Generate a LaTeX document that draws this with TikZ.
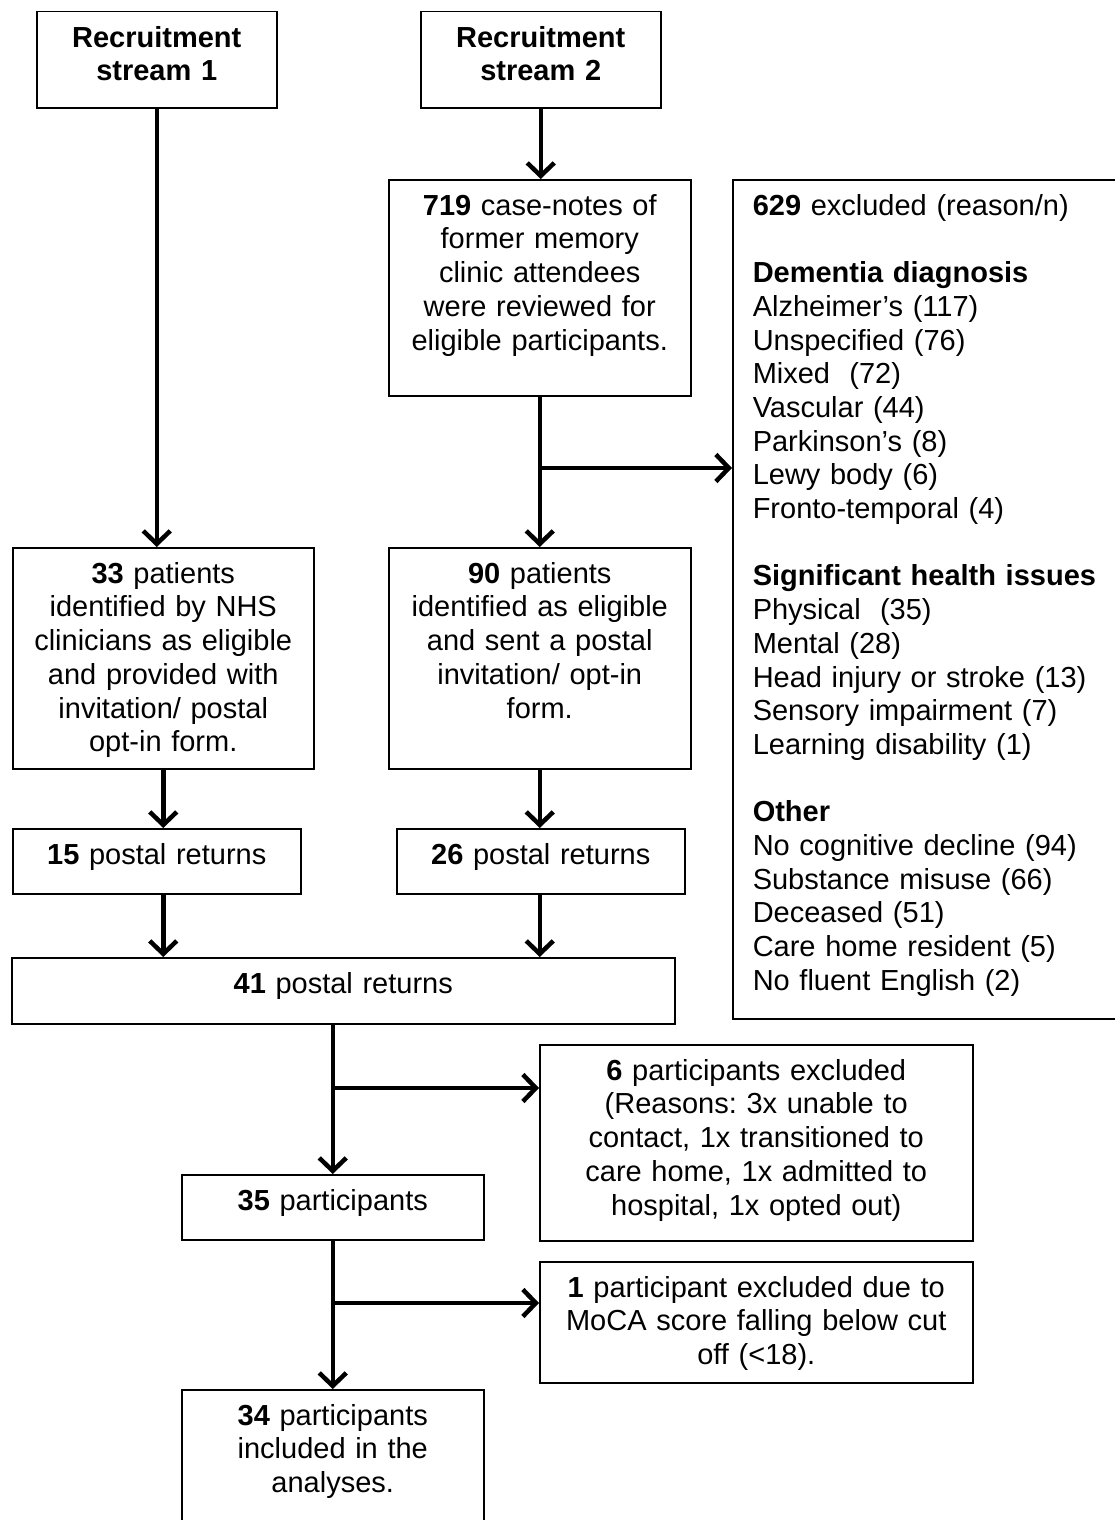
\documentclass[tikz,border=0pt]{standalone}
\usepackage{fontspec}
\setmainfont{Liberation Sans}
\usetikzlibrary{arrows.meta}

\tikzset{every picture/.style={line width=1.5pt}}
\tikzset{
  box/.style={draw, anchor=north west, inner sep=0pt, align=center, text height=35.5pt, font=\fontsize{29}{33.7}\selectfont},
  arr/.style={line width=4.5pt, -{Straight Barb[length=13pt,width=27pt]}}
}

\begin{document}
\frenchspacing
\begin{tikzpicture}[x=1pt,y=1pt,yscale=-1,xscale=1]
\useasboundingbox (0,0) rectangle (1115,1520);

%Flowchart: Process [stream 1]
\node[box, text width=240pt, text depth=60.5pt] (rs1) at (36,11) {\bfseries Recruitment\\stream 1};
%Flowchart: Process [stream 2]
\node[box, text width=240pt, text depth=60.5pt] (rs2) at (420,11) {\bfseries Recruitment\\stream 2};
%Flowchart: Process [case-notes]
\node[box, text width=302pt, text depth=180.5pt] (n719) at (388,179) {\textbf{719} case-notes of\\former memory\\clinic attendees\\were reviewed for\\eligible participants.};
%Flowchart: Process [exclusions]
\node[box, align=left, inner xsep=20pt, text width=360pt, text depth=803.5pt] (excl) at (732,179) {\textbf{629} excluded (reason/n)\\[33.7pt]
\textbf{Dementia diagnosis}\\
Alzheimer’s (117)\\
Unspecified (76)\\
Mixed\ \ (72)\\
Vascular (44)\\
Parkinson’s (8)\\
Lewy body (6)\\
Fronto-temporal (4)\\[33.7pt]
\textbf{Significant health issues}\\
Physical\ \ (35)\\
Mental (28)\\
Head injury or stroke (13)\\
Sensory impairment (7)\\
Learning disability (1)\\[33.7pt]
\textbf{Other}\\
No cognitive decline (94)\\
Substance misuse (66)\\
Deceased (51)\\
Care home resident (5)\\
No fluent English (2)};
%Flowchart: Process [33 patients]
\node[box, text width=301pt, text depth=185.5pt] (n33) at (12,547) {\textbf{33} patients\\identified by NHS\\clinicians as eligible\\and provided with\\invitation/ postal\\opt-in form.};
%Flowchart: Process [90 patients]
\node[box, text width=302pt, text depth=185.5pt] (n90) at (388,547) {\textbf{90} patients\\identified as eligible\\and sent a postal\\invitation/ opt-in\\form.};
%Flowchart: Process [returns]
\node[box, text width=288pt, text depth=29.5pt] (p15) at (12,828) {\textbf{15} postal returns};
\node[box, text width=288pt, text depth=29.5pt] (p26) at (396,828) {\textbf{26} postal returns};
\node[box, text width=663pt, text depth=30.5pt] (n41) at (11,957) {\textbf{41} postal returns};
%Flowchart: Process [participants]
\node[box, text width=433pt, text depth=160.5pt] (n6) at (539,1044) {\textbf{6} participants excluded\\(Reasons: 3x unable to\\contact, 1x transitioned to\\care home, 1x admitted to\\hospital, 1x opted out)};
\node[box, text width=302pt, text depth=29.5pt] (n35) at (181,1174) {\textbf{35} participants};
\node[box, text width=433pt, text depth=85.5pt] (n1) at (539,1261) {\textbf{1} participant excluded due to\\MoCA score falling below cut\\off (<18).};
\node[box, text width=302pt, text depth=100.5pt] (n34) at (181,1389) {\textbf{34} participants\\included in the\\analyses.};

%Straight Lines
\coordinate (j1) at (539,468);
\coordinate (j2) at (332,1088);
\coordinate (j3) at (332,1303);
\draw[arr] (rs1.south) -- (rs1.south |- n33.north);
\draw[arr] (rs2.south) -- (rs2.south |- n719.north);
\draw[arr] (n719.south) -- (n719.south |- n90.north);
\draw[arr] (j1) -- (j1 -| excl.west);
\draw[arr] (n33.south) -- (n33.south |- p15.north);
\draw[arr] (n90.south) -- (n90.south |- p26.north);
\draw[arr] (n33.south |- p15.south) -- (n33.south |- n41.north);
\draw[arr] (n90.south |- p26.south) -- (n90.south |- n41.north);
\draw[arr] (n35.north |- n41.south) -- (n35.north);
\draw[arr] (j2) -- (j2 -| n6.west);
\draw[arr] (n35.south) -- (n34.north);
\draw[arr] (j3) -- (j3 -| n1.west);

\end{tikzpicture}
\end{document}
